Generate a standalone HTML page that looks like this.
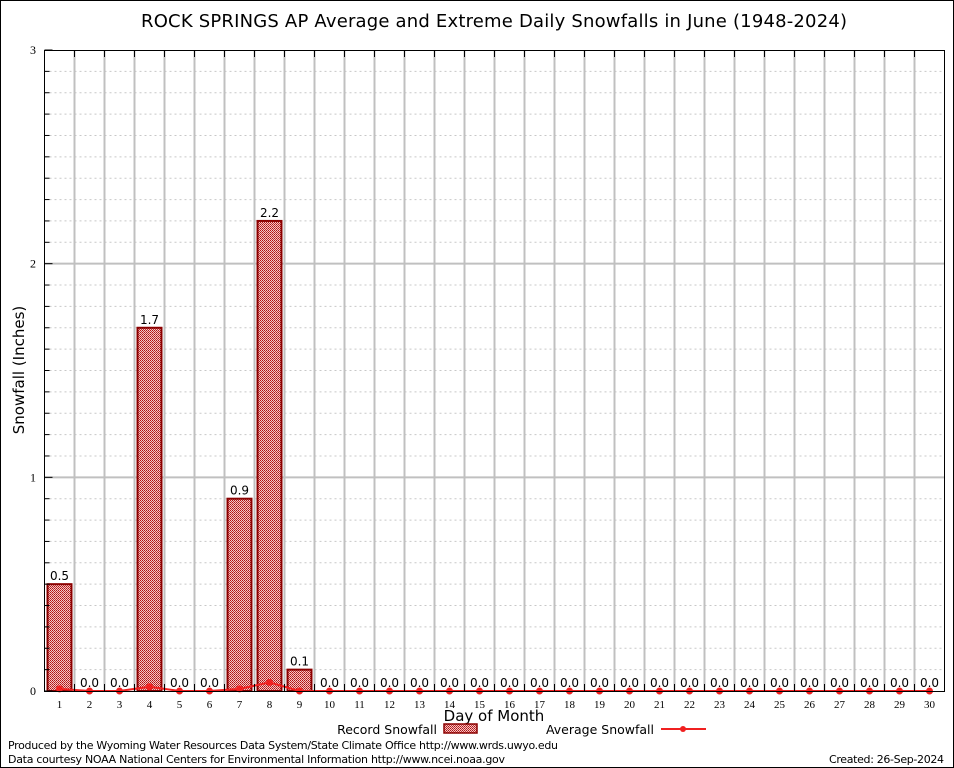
<!DOCTYPE html>
<html><head><meta charset="utf-8"><style>
body{margin:0;background:#fff}
svg{display:block;font-family:"DejaVu Sans","Liberation Sans",sans-serif}
</style></head><body>
<svg id="chart" width="954" height="768" viewBox="0 0 954 768">
<defs>
<pattern id="hatch" width="2" height="2" patternUnits="userSpaceOnUse">
<rect width="2" height="2" fill="#f0c8c8"/>
<rect width="1" height="1" fill="#b01010"/>
<rect x="1" y="1" width="1" height="1" fill="#c83030"/>
</pattern>
</defs>
<rect x="0.5" y="0.5" width="953" height="767" fill="#fff" stroke="#000"/>
<text x="494" y="27" text-anchor="middle" font-size="18" textLength="706">ROCK SPRINGS AP Average and Extreme Daily Snowfalls in June (1948-2024)</text>
<g id="grid"></g>
<g id="bars"></g>
<g id="avg"></g>
<rect x="44.5" y="50.5" width="900" height="641" fill="none" stroke="#000"/>
<g id="axes"></g>
<text transform="translate(24,370) rotate(-90)" text-anchor="middle" font-size="15">Snowfall (Inches)</text>
<text x="494" y="721" text-anchor="middle" font-size="15">Day of Month</text>
<g>
<text x="437" y="734" text-anchor="end" font-size="12.5">Record Snowfall</text>
<rect x="444" y="724" width="33" height="9" fill="url(#hatch)" stroke="#8b0000" stroke-width="1.5"/>
<text x="654" y="734" text-anchor="end" font-size="12.5">Average Snowfall</text>
<line x1="661" y1="729" x2="706" y2="729" stroke="#f02020" stroke-width="2"/>
<circle cx="683" cy="729" r="3" fill="#f02020"/>
</g>
<text x="8" y="749" font-size="11" textLength="550">Produced by the Wyoming Water Resources Data System/State Climate Office http://www.wrds.uwyo.edu</text>
<text x="8" y="763" font-size="11" textLength="497">Data courtesy NOAA National Centers for Environmental Information http://www.ncei.noaa.gov</text>
<text x="944" y="763" text-anchor="end" font-size="11" textLength="115">Created: 26-Sep-2024</text>
</svg>
<script>
const days=[1,2,3,4,5,6,7,8,9,10,11,12,13,14,15,16,17,18,19,20,21,22,23,24,25,26,27,28,29,30];
const recordSnow=[0.5,0,0,1.7,0,0,0.9,2.2,0.1,0,0,0,0,0,0,0,0,0,0,0,0,0,0,0,0,0,0,0,0,0];
const avgSnow=[0.01,0,0,0.02,0,0,0.01,0.04,0,0,0,0,0,0,0,0,0,0,0,0,0,0,0,0,0,0,0,0,0,0];
const yTicks=[0,1,2,3];
const NS="http://www.w3.org/2000/svg";
const X0=44.5,Y0=691,Y1=50,YMAX=3;
const xs=d=>X0+15+(d-1)*30;
const ys=v=>Y0-(v/YMAX)*(Y0-Y1);
function mk(p,tag,a){const e=document.createElementNS(NS,tag);for(const k in a)e.setAttribute(k,a[k]);p.appendChild(e);return e;}
const grid=document.getElementById('grid'),bars=document.getElementById('bars'),avg=document.getElementById('avg'),axes=document.getElementById('axes');
for(let v=0.1;v<YMAX-0.01;v+=0.1){
 if(Math.abs(v-Math.round(v))<0.01){
  const l=mk(grid,'line',{x1:X0,x2:944.5,y1:ys(v),y2:ys(v),stroke:'#c0c0c0','stroke-width':2});
  
  
 }else{
  const l=mk(grid,'line',{x1:X0,x2:944.5,y1:ys(v),y2:ys(v),stroke:'#c8c8c8','stroke-width':1,'stroke-dasharray':'2,3'});
  
  
  const t=mk(axes,'line',{x1:X0,x2:X0+5,y1:ys(v),y2:ys(v),stroke:'#000'});
  
  
 }
}
for(let i=1;i<days.length;i++){
 const x=X0+i*30;
 const l=mk(grid,'line',{x1:x,x2:x,y1:Y1,y2:Y0,stroke:'#c0c0c0','stroke-width':2});
 
 
 const t=mk(axes,'line',{x1:x,x2:x,y1:Y1,y2:Y1+7,stroke:'#000'});
 
 
 const b=mk(axes,'line',{x1:x,x2:x,y1:Y0-7,y2:Y0,stroke:'#000'});
 
 
}
yTicks.forEach(v=>{
 const t=mk(axes,'text',{x:36,y:ys(v)+4,'text-anchor':'end','font-size':12,'font-family':'Liberation Serif,serif'});
 t.textContent=v;
 
 
 const k=mk(axes,'line',{x1:X0,x2:X0+8,y1:ys(v),y2:ys(v),stroke:'#000'});
 
 
});
days.forEach((d,i)=>{
 const v=recordSnow[i],cx=xs(d);
 if(v>0){
  const r=mk(bars,'rect',{x:cx-12,y:ys(v),width:24,height:Y0-ys(v),fill:'url(#hatch)',stroke:'#8b0000','stroke-width':2});
  
  
 }
 const t=mk(bars,'text',{x:cx,y:ys(v)-4,'text-anchor':'middle','font-size':12});
 t.textContent=v.toFixed(1);
 
 
 const xl=mk(axes,'text',{x:cx,y:708,'text-anchor':'middle','font-size':11,'font-family':'Liberation Serif,serif'});
 xl.textContent=d;
 
 
});
const pts=days.map((d,i)=>xs(d)+','+ys(avgSnow[i])).join(' ');
const pl=mk(avg,'polyline',{points:pts,fill:'none',stroke:'#f02020','stroke-width':2});


days.forEach((d,i)=>{
 const c=mk(avg,'circle',{cx:xs(d),cy:ys(avgSnow[i]),r:3.5,fill:'#f02020'});
 
 
});
</script>
</body></html>
